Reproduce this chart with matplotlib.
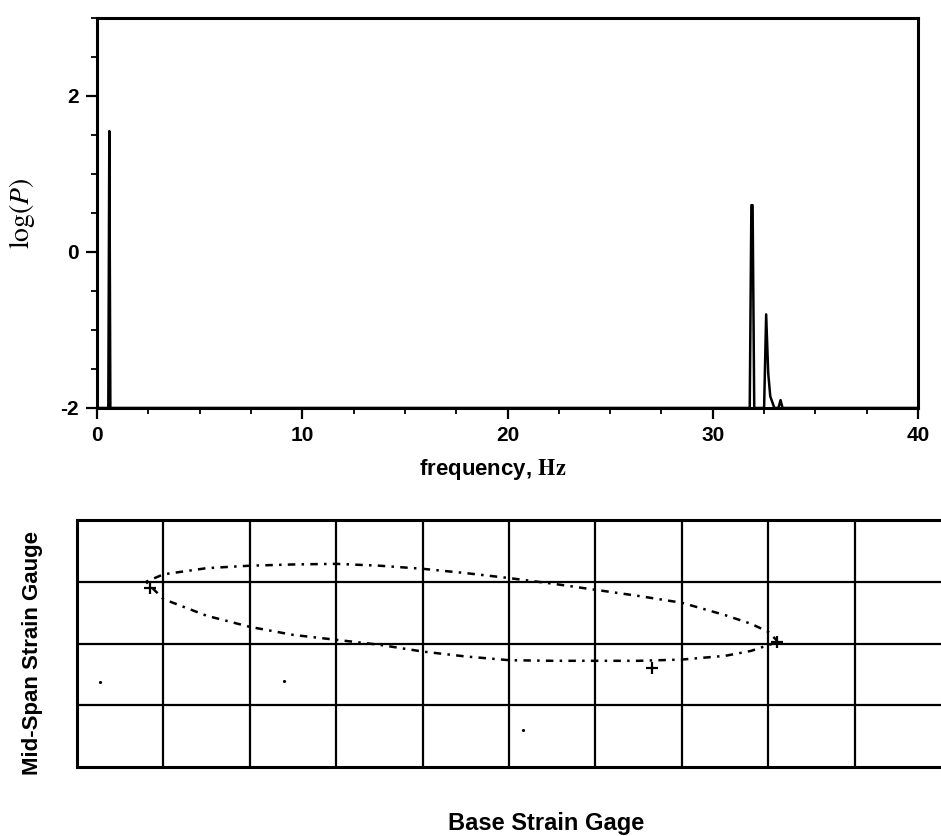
import matplotlib

matplotlib.use("Agg")
import matplotlib.pyplot as plt
from matplotlib.ticker import MultipleLocator

# spectrum
freq_hz = [0.0, 0.55, 0.6, 0.65, 31.8, 31.88, 31.94, 32.02, 32.5,
           32.6, 32.7, 32.8, 33.0, 33.2, 33.3, 33.4, 40.0]
log_p = [-2.0, -2.0, 1.55, -2.0, -2.0, 0.6, 0.6, -2.0, -2.0,
         -0.8, -1.55, -1.85, -2.0, -2.0, -1.9, -2.0, -2.0]

# Lissajous trace, in grid units (10 columns x 4 rows)
upper_x = [0.8, 1.0, 1.5, 2.0, 2.5, 3.0, 3.5, 4.0, 4.5, 5.0, 5.5, 6.0, 6.5,
           7.0, 7.5, 7.8, 8.0, 8.1]
upper_y = [3.0, 3.12, 3.22, 3.26, 3.28, 3.29, 3.26, 3.21, 3.14, 3.06, 2.97,
           2.87, 2.77, 2.66, 2.46, 2.32, 2.19, 2.05]
lower_x = [0.8, 1.0, 1.5, 2.0, 2.5, 3.0, 3.5, 4.0, 4.5, 5.0, 5.5, 6.0, 6.5,
           7.0, 7.5, 7.8, 8.1]
lower_y = [3.0, 2.72, 2.45, 2.27, 2.14, 2.06, 1.98, 1.87, 1.79, 1.73, 1.72,
           1.72, 1.72, 1.74, 1.8, 1.88, 2.02]
stray_x = [0.27, 2.4, 5.16]
stray_y = [1.37, 1.4, 0.6]
mark_x = [0.85, 8.1, 6.65]
mark_y = [2.9, 2.03, 1.6]

plt.rcParams["font.family"] = ["Liberation Sans", "DejaVu Sans"]
plt.rcParams["mathtext.fontset"] = "stix"
plt.rcParams["axes.unicode_minus"] = False

fig = plt.figure(figsize=(9.41, 8.36), dpi=100)

# --- top: power spectrum ---
ax = fig.add_axes([0.1031, 0.512, 0.8725, 0.4665])
ax.plot(freq_hz, log_p, color="black", lw=1.8)
ax.set_xlim(0, 40)
ax.set_ylim(-2, 3)
ax.xaxis.set_major_locator(MultipleLocator(10))
ax.xaxis.set_minor_locator(MultipleLocator(2.5))
ax.yaxis.set_major_locator(MultipleLocator(2))
ax.yaxis.set_minor_locator(MultipleLocator(0.5))
ax.tick_params(which="major", direction="out", length=8, width=1.6,
               labelsize=15, pad=5)
ax.tick_params(which="minor", direction="out", length=4, width=1.3)
for s in ax.spines.values():
    s.set_linewidth(2.2)
for lab in ax.get_xticklabels() + ax.get_yticklabels():
    lab.set_fontweight("bold")
ax.set_xlabel(r"frequency, $\mathbf{Hz}$", fontsize=16, fontweight="bold")
ax.xaxis.set_label_coords(0.482, -0.125)
ax.set_ylabel(r"$\log(P)$", fontsize=20)
ax.yaxis.set_label_coords(-0.073, 0.5)

# --- bottom: strain gauge trace on a grid ---
bx = fig.add_axes([0.0818, 0.0825, 0.9182, 0.2955])
bx.set_xlim(0, 10)
bx.set_ylim(0, 4)
bx.set_xticks(range(1, 10))
bx.set_yticks(range(1, 4))
bx.grid(True, color="black", lw=1.6)
bx.tick_params(length=0, labelbottom=False, labelleft=False)
for s in bx.spines.values():
    s.set_linewidth(2.2)
bx.spines["right"].set_visible(False)
bx.plot(upper_x, upper_y, color="black", lw=1.8, ls=(0, (1, 2.5, 3, 2.5)))
bx.plot(lower_x, lower_y, color="black", lw=1.8, ls=(0, (1, 2.5, 3, 2.5)))
bx.plot(mark_x, mark_y, "+", color="black", ms=8, mew=1.6)
bx.plot(stray_x, stray_y, ".", color="black", ms=2.5)
bx.set_ylabel("Mid-Span Strain Gauge", fontsize=16, fontweight="bold")
bx.yaxis.set_label_coords(-0.039, 0.46)
bx.set_xlabel("Base Strain Gage", fontsize=17, fontweight="bold")
bx.xaxis.set_label_coords(0.543, -0.182)

fig.savefig("out.png", dpi=100)
